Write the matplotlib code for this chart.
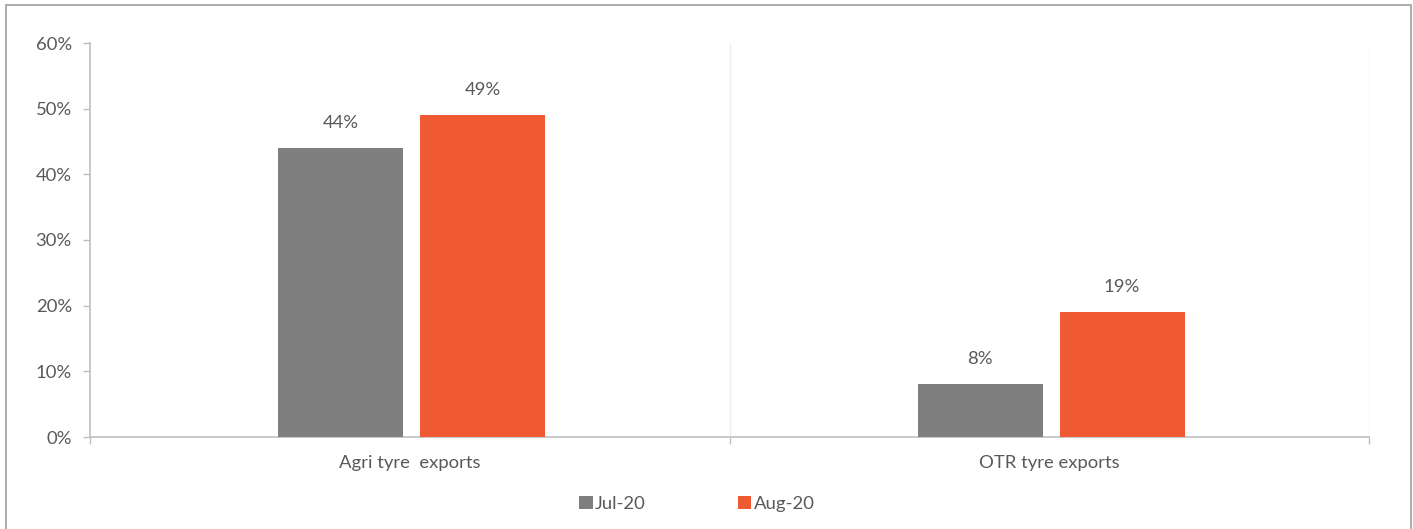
import matplotlib
matplotlib.use("Agg")
import matplotlib.pyplot as plt
from matplotlib.patches import Rectangle
import numpy as np

categories = ["Agri tyre  exports", "OTR tyre exports"]
series_names = ["Jul-20", "Aug-20"]
jul_values = [44, 8]
aug_values = [49, 19]
y_ticks = [0, 10, 20, 30, 40, 50, 60]

colors = ["#7f7f7f", "#ef5a32"]
text_color = "#595959"
axis_color = "#bfbfbf"

plt.rcParams["font.family"] = ["Lato", "DejaVu Sans"]
FS = 13.3

W, H = 1413, 529
fig = plt.figure(figsize=(W / 100, H / 100), dpi=100)
ax = fig.add_axes([90 / W, 1 - 437 / H, (1369 - 90) / W, (437 - 43) / H])

x = np.arange(len(categories))
width = 0.1955
offsets = [-0.108, 0.114]
bars = []
for vals, off, c, name in zip([jul_values, aug_values], offsets, colors, series_names):
    b = ax.bar(x + off, vals, width, color=c, label=name, zorder=3)
    bars.append(b)
    for rect, v in zip(b, vals):
        ax.annotate(f"{v}%", (rect.get_x() + rect.get_width() / 2, v),
                    xytext=(0, 12.5), textcoords="offset points", ha="center", va="bottom",
                    fontsize=FS, color=text_color)

ax.set_xlim(-0.5, 1.5)
ax.set_ylim(0, 60)
ax.set_yticks(y_ticks)
ax.set_yticklabels([f"{t}%" for t in y_ticks])
ax.tick_params(axis="y", length=5, width=1, color=axis_color, labelcolor=text_color,
               labelsize=FS, pad=8)

# category boundaries: ticks and separators
ax.set_xticks([-0.5, 0.5, 1.5])
ax.set_xticklabels([])
ax.tick_params(axis="x", length=5, width=1, color=axis_color)
for xb in [0.5, 1.5]:
    ax.axvline(xb, color="#ececec", lw=1, zorder=1)
for xi, lab in zip(x, categories):
    ax.text(xi, -4.0, lab, ha="center", va="center", fontsize=FS, color=text_color)

for s in ["top", "right"]:
    ax.spines[s].set_visible(False)
for s in ["left", "bottom"]:
    ax.spines[s].set_color(axis_color)
    ax.spines[s].set_linewidth(1.2)

leg = fig.legend(handles=[bars[0], bars[1]], labels=series_names, ncol=2,
                 loc="center", bbox_to_anchor=(697 / W, 1 - 504 / H), frameon=False,
                 handlelength=0.72, handleheight=0.72, handletextpad=0.12,
                 columnspacing=5.0, fontsize=FS)
for t in leg.get_texts():
    t.set_color(text_color)

fig.patches.append(Rectangle((6 / W, -0.05), (1411 - 6) / W, 1.05 - 4.5 / H,
                             transform=fig.transFigure, fill=False,
                             edgecolor="#a6a6a6", lw=1.3))

fig.savefig("out.png", dpi=100, facecolor="white")
